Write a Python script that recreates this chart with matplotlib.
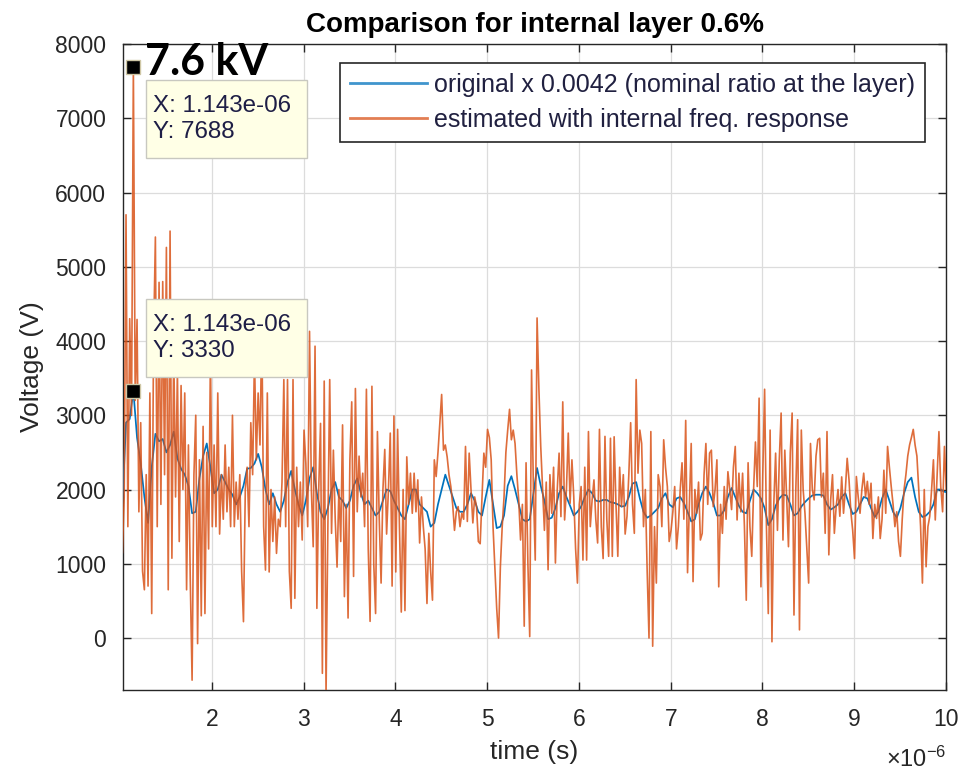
import numpy as np
import matplotlib
matplotlib.use("Agg")
import matplotlib.pyplot as plt
from matplotlib.patches import Rectangle

plt.rcParams['font.family'] = ['Liberation Sans', 'DejaVu Sans']
plt.rcParams['mathtext.fontset'] = 'custom'
plt.rcParams['mathtext.rm'] = 'Liberation Sans'

# ---------------- data ----------------
t_start = 1.023e-6          # first sample time (s)
orig_step = 0.04e-6         # sample spacing of the blue trace (s)
est_step = 0.02e-6          # sample spacing of the orange trace (s)

original_scaled = [
    1800, 2900, 2950, 3330, 2700, 2350, 1900, 1550, 2300, 2750,
    2650, 2680, 2500, 2600, 2780, 2420, 2280, 2200, 2050, 1680,
    1700, 2150, 2450, 2620, 2300, 1950, 2000, 2200, 2100, 2000,
    1930, 1800, 1900, 2050, 2280, 2290, 2350, 2480, 2300, 2000,
    1800, 1950, 1800, 1700, 1850, 2100, 2250, 2000, 1800, 1650,
    1850, 2150, 2300, 1950, 1700, 1600, 1750, 2000, 2100, 1900,
    1850, 1750, 1850, 2050, 2150, 1950, 1800, 1850, 1750, 1650,
    1700, 1850, 2000, 1980, 1850, 1750, 1650, 1600, 1800, 2000,
    2000, 1800, 1750, 1700, 1500, 1550, 1800, 2000, 2200, 2050,
    1900, 1750, 1700, 1700, 1800, 1950, 1850, 1700, 1650, 1900,
    2130, 1800, 1480, 1500, 1650, 2050, 2180, 2000, 1800, 1600,
    1570, 1600, 1950, 2290, 2050, 1850, 1600, 1620, 1750, 1950,
    2040, 1900, 1780, 1650, 1700, 1770, 1900, 2000, 1950, 1850,
    1840, 1860, 1860, 1830, 1820, 1800, 1770, 1780, 1900, 2080,
    2100, 1880, 1700, 1620, 1650, 1700, 1750, 1880, 1950, 1800,
    1760, 1880, 1900, 1820, 1700, 1570, 1600, 1800, 1950, 2040,
    1950, 1820, 1650, 1650, 1720, 1900, 2020, 1900, 1780, 1700,
    1680, 1850, 2000, 1950, 1880, 1750, 1520, 1600, 1780, 1880,
    1930, 1920, 1800, 1650, 1680, 1770, 1830, 1880, 1920, 1930,
    1930, 1920, 1800, 1730, 1760, 1800, 1900, 1950, 1800, 1670,
    1700, 1800, 1900, 1880, 1750, 1630, 1700, 1880, 2000, 1850,
    1700, 1620, 1750, 1950, 2100, 2160, 1900, 1700, 1630, 1650,
    1700, 1800, 2000, 2000, 1970, 1960,
]

estimated = [
    # 1.023 - 2.003 us
    1150, 1900, 5700, 1500, 4300, 3000, 7688, 3200, 4290, 1700,
    2900, 900, 650, 2200, 700, 3300, 330, 4000, 5400, 1500,
    4790, 1800, 4800, 2200, 5260, 650, 5480, 1075, 3900, 1900,
    3600, 1300, 3400, 2000, 3300, 650, 2600, 800, -567, 2200,
    3000, -75, 2400, 300, 2850, 330, 2500, 1200, 3800, 1500,
    # 2.023 - 3.003 us
    2600, 1500, 3300, 1400, 2200, 1600, 2600, 1700, 2300, 1500,
    3000, 1500, 2100, 1600, 2200, 900, 220, 2000, 2300, 1500,
    2900, 2200, 3800, 2400, 3300, 2600, 4200, 1500, 915, 3300,
    890, 2000, 1300, 1900, 1140, 1600, 1500, 2100, 3480, 1500,
    3480, 900, 400, 3480, 535, 2300, 1500, 2100, 1320, 2800,
    # 3.023 - 4.003 us
    2350, 1500, 4130, 2000, 1230, 3930, 400, 2000, 2890, -475,
    3460, -750, 1500, 3480, 1410, 2530, 1600, 955, 2000, 1300,
    2870, 558, 1800, 270, 2400, 3180, 830, 3360, 1700, 2450,
    1900, 2220, 1500, 3350, 1200, 225, 3390, 1000, 330, 2780,
    1600, 740, 2000, 2540, 1400, 2000, 2760, 700, 2990, 890,
    # 4.023 - 5.003 us
    2810, 1500, 350, 2000, 370, 2440, 1800, 2220, 1680, 2220,
    1700, 2130, 1280, 1900, 1500, 1200, 465, 1410, 900, 510,
    2400, 2175, 2500, 2900, 3280, 2530, 2600, 2440, 2200, 2040,
    1800, 1450, 1700, 1770, 1500, 1680, 1600, 2580, 1570, 2490,
    2000, 1550, 1900, 1770, 1300, 1270, 1900, 2490, 2300, 2810,
    # 5.023 - 6.003 us
    2700, 2400, 1500, 960, 400, 0, 960, 1500, 1900, 2500,
    2800, 3080, 2670, 2800, 2620, 2200, 1860, 1320, 1800, 160,
    2360, 1000, 20, 3610, 2000, 1050, 4310, 3350, 2580, 2000,
    1450, 2100, 920, 2200, 1680, 2300, 1010, 2000, 2490, 1635,
    3180, 1590, 2000, 2760, 1815, 2400, 1900, 1200, 740, 1800,
    # 6.023 - 7.003 us
    2040, 1050, 2300, 1050, 2780, 1500, 1860, 2130, 1600, 1280,
    2810, 1500, 1070, 2715, 1600, 1100, 2690, 1100, 2710, 1800,
    1100, 2300, 1770, 2200, 1400, 1640, 2200, 2900, 1800, 1410,
    3480, 2220, 2800, 2620, 1500, 2000, 900, 0, 2780, -110,
    1500, 740, 2200, 2040, 1500, 2670, 2300, 2040, 1300, 1450,
    # 7.023 - 8.003 us
    1700, 2040, 1200, 1500, 2000, 2360, 1600, 2930, 880, 1800,
    2620, 760, 2000, 1680, 2100, 1320, 1410, 2200, 2620, 1800,
    2490, 2530, 1770, 2000, 2400, 690, 1800, 1410, 2040, 1600,
    2240, 2000, 1730, 2300, 2580, 1590, 2220, 1700, 2220, 1500,
    510, 2360, 1500, 1100, 2000, 2640, 2040, 3230, 690, 2200,
    # 8.023 - 9.003 us
    3350, 1500, 330, 2800, -50, 1800, 2490, 1450, 2400, 3030,
    1320, 2530, 1900, 1230, 2500, 3030, 310, 2000, 2940, 110,
    2800, 2000, 1680, 1200, 740, 2620, 2000, 1860, 2450, 2670,
    2690, 1900, 2220, 1410, 2780, 1120, 1860, 2200, 1410, 1770,
    2000, 1640, 2170, 1680, 2000, 2420, 2130, 1700, 1450, 1070,
    # 9.023 - 10.023 us
    2175, 1900, 1680, 2000, 2220, 1900, 2110, 1800, 2085, 1340,
    1800, 1610, 1900, 1340, 1600, 2260, 1680, 2580, 2300, 2040,
    1800, 1500, 1700, 1300, 1100, 1600, 2000, 2200, 2450, 2600,
    2700, 2810, 2600, 2450, 2000, 1500, 740, 2000, 960, 1500,
    1640, 2000, 2400, 1590, 2200, 2780, 2040, 1700, 2580, 2000, 2560,
]

tip_x = 1.143e-6
tip_y = [7688, 3330]

x_ticks = [2, 3, 4, 5, 6, 7, 8, 9, 10]          # in units of 1e-6 s
y_ticks = [0, 1000, 2000, 3000, 4000, 5000, 6000, 7000, 8000]

labels = ["original x 0.0042 (nominal ratio at the layer)",
          "estimated with internal freq. response"]
title = "Comparison for internal layer 0.6%"

# ---------------- figure ----------------
fig = plt.figure(figsize=(9.61, 7.70), dpi=100)
ax = fig.add_axes([123 / 961, 1 - 690 / 770, 823 / 961, 646 / 770])

t_orig = t_start + orig_step * np.arange(len(original_scaled))
t_est = t_start + est_step * np.arange(len(estimated))

BLUE = '#0072BD'
ORANGE = '#D95319'
AXC = '#262626'

ax.plot(t_orig, original_scaled, color=BLUE, lw=1.25, label=labels[0], zorder=3)
ax.plot(t_est, estimated, color=ORANGE, lw=1.2, label=labels[1], zorder=4, alpha=0.85)

ax.set_xlim(1.03e-6, 10e-6)
ax.set_ylim(-700, 8000)
ax.set_xticks([v * 1e-6 for v in x_ticks])
ax.set_xticklabels([str(v) for v in x_ticks])
ax.set_yticks(y_ticks)
ax.set_yticklabels([str(v) for v in y_ticks])

ax.grid(True, color='#DCDCDC', lw=0.9)
ax.set_axisbelow(True)
for s in ax.spines.values():
    s.set_color(AXC)
    s.set_linewidth(1.0)
ax.tick_params(direction='in', length=6, width=1.0, color=AXC,
               labelcolor=AXC, labelsize=16.5, top=True, right=True)
ax.tick_params(axis='x', pad=13)
ax.tick_params(axis='y', pad=12)

ax.set_title(title, fontsize=20, fontweight='bold', color='black', pad=9)
ax.set_xlabel("time (s)", fontsize=19, color=AXC)
ax.xaxis.set_label_coords(0.5, -0.078)
ax.set_ylabel("Voltage (V)", fontsize=19, color=AXC)
ax.yaxis.set_label_coords(-0.096, 0.5)

ax.text(1.0, -0.107, r'$\times\mathregular{10^{-6}}$', transform=ax.transAxes,
        ha='right', va='center', fontsize=17, color=AXC)

leg = ax.legend(loc='upper right', bbox_to_anchor=(0.974, 0.971), fontsize=18,
                frameon=True, fancybox=False, edgecolor=AXC, framealpha=1,
                handlelength=3.1, handletextpad=0.25, labelspacing=0.45,
                borderpad=0.4, borderaxespad=0)
leg.get_frame().set_linewidth(1.2)
for line in leg.get_lines():
    line.set_linewidth(2.0)
    line.set_alpha(0.75)
for t in leg.get_texts():
    t.set_color('#202040')

# data tips
boxes = [(0.028, 0.824), (0.028, 0.485)]
for (bx, by), yv in zip(boxes, tip_y):
    ax.add_patch(Rectangle((bx, by), 0.196, 0.120, transform=ax.transAxes,
                           facecolor='#FFFFE6', edgecolor='#C8C8C0', lw=1.0,
                           zorder=10, clip_on=False))
    ax.text(bx + 0.008, by + 0.060, f"X: {tip_x:.3e}\nY: {yv}",
            transform=ax.transAxes, ha='left', va='center', fontsize=17.4,
            color='#1E1E46', zorder=11, linespacing=1.25)
    ax.plot([tip_x], [yv], marker='s', ms=10, mfc='black', mec='#CFC7A5',
            mew=1.0, zorder=12, clip_on=False)

fig.text(145 / 961, 1 - 62 / 770, "7.6 kV", fontsize=31, fontweight='bold',
         family=['Lato', 'DejaVu Sans'], ha='left', va='center', color='black',
         zorder=20)

fig.savefig("out.png", dpi=100)
